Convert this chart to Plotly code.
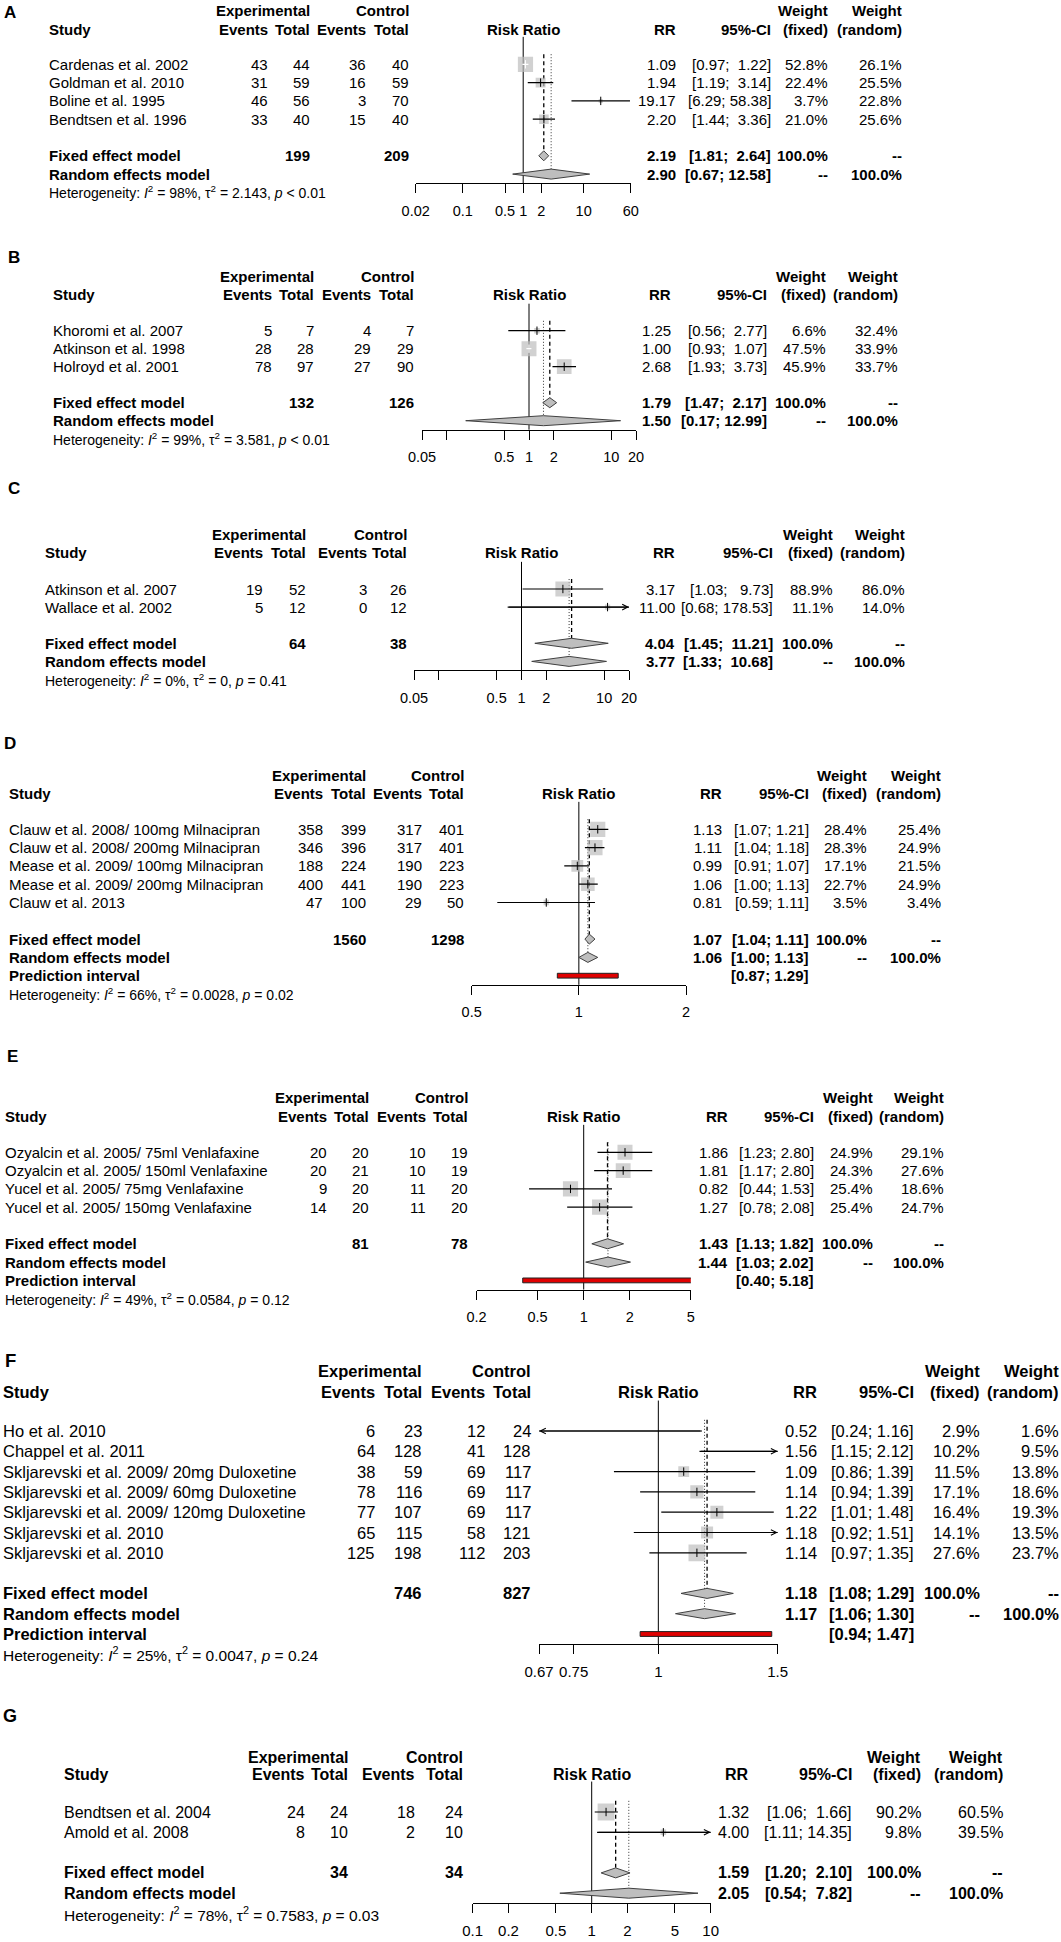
import numpy as np
import plotly.graph_objects as go

W, H = 1061, 1942
FONT = "Liberation Sans, Arial, Helvetica, sans-serif"

# ---------------- Panel A ----------------
A_study = ["Cardenas et al. 2002", "Goldman et al. 2010", "Boline et al. 1995", "Bendtsen et al. 1996"]
A_exp_events = [43, 31, 46, 33]
A_exp_total = [44, 59, 56, 40]
A_ctl_events = [36, 16, 3, 15]
A_ctl_total = [40, 59, 70, 40]
A_rr = [1.09, 1.94, 19.17, 2.20]
A_lower = [0.97, 1.19, 6.29, 1.44]
A_upper = [1.22, 3.14, 58.38, 3.36]
A_w_fixed = [52.8, 22.4, 3.7, 21.0]
A_w_random = [26.1, 25.5, 22.8, 25.6]
A_fixed = [2.19, 1.81, 2.64]
A_random = [2.90, 0.67, 12.58]
A_pred = None
A_totals = [199, 209]
A_het = ["98%", "2.143", "< 0.01"]
A_ticks = [0.01667, 0.1, 0.5, 1, 2, 10, 60]
A_ticklabels = ["0.02", "0.1", "0.5", "1", "2", "10", "60"]

# ---------------- Panel B ----------------
B_study = ["Khoromi et al. 2007", "Atkinson et al. 1998", "Holroyd et al. 2001"]
B_exp_events = [5, 28, 78]
B_exp_total = [7, 28, 97]
B_ctl_events = [4, 29, 27]
B_ctl_total = [7, 29, 90]
B_rr = [1.25, 1.00, 2.68]
B_lower = [0.56, 0.93, 1.93]
B_upper = [2.77, 1.07, 3.73]
B_w_fixed = [6.6, 47.5, 45.9]
B_w_random = [32.4, 33.9, 33.7]
B_fixed = [1.79, 1.47, 2.17]
B_random = [1.50, 0.17, 12.99]
B_pred = None
B_totals = [132, 126]
B_het = ["99%", "3.581", "< 0.01"]
B_ticks = [0.05, 0.1, 0.5, 1, 2, 10, 20]
B_ticklabels = ["0.05", "", "0.5", "1", "2", "10", "20"]

# ---------------- Panel C ----------------
C_study = ["Atkinson et al. 2007", "Wallace et al. 2002"]
C_exp_events = [19, 5]
C_exp_total = [52, 12]
C_ctl_events = [3, 0]
C_ctl_total = [26, 12]
C_rr = [3.17, 11.00]
C_lower = [1.03, 0.68]
C_upper = [9.73, 178.53]
C_w_fixed = [88.9, 11.1]
C_w_random = [86.0, 14.0]
C_fixed = [4.04, 1.45, 11.21]
C_random = [3.77, 1.33, 10.68]
C_pred = None
C_totals = [64, 38]
C_het = ["0%", "0", "= 0.41"]
C_ticks = [0.05, 0.1, 0.5, 1, 2, 10, 20]
C_ticklabels = ["0.05", "", "0.5", "1", "2", "10", "20"]

# ---------------- Panel D ----------------
D_study = ["Clauw et al. 2008/ 100mg Milnacipran", "Clauw et al. 2008/ 200mg Milnacipran",
           "Mease et al. 2009/ 100mg Milnacipran", "Mease et al. 2009/ 200mg Milnacipran",
           "Clauw et al. 2013"]
D_exp_events = [358, 346, 188, 400, 47]
D_exp_total = [399, 396, 224, 441, 100]
D_ctl_events = [317, 317, 190, 190, 29]
D_ctl_total = [401, 401, 223, 223, 50]
D_rr = [1.13, 1.11, 0.99, 1.06, 0.81]
D_lower = [1.07, 1.04, 0.91, 1.00, 0.59]
D_upper = [1.21, 1.18, 1.07, 1.13, 1.11]
D_w_fixed = [28.4, 28.3, 17.1, 22.7, 3.5]
D_w_random = [25.4, 24.9, 21.5, 24.9, 3.4]
D_fixed = [1.07, 1.04, 1.11]
D_random = [1.06, 1.00, 1.13]
D_pred = [0.87, 1.29]
D_totals = [1560, 1298]
D_het = ["66%", "0.0028", "= 0.02"]
D_ticks = [0.5, 1, 2]
D_ticklabels = ["0.5", "1", "2"]

# ---------------- Panel E ----------------
E_study = ["Ozyalcin et al. 2005/ 75ml Venlafaxine", "Ozyalcin et al. 2005/ 150ml Venlafaxine",
           "Yucel et al. 2005/ 75mg Venlafaxine", "Yucel et al. 2005/ 150mg Venlafaxine"]
E_exp_events = [20, 20, 9, 14]
E_exp_total = [20, 21, 20, 20]
E_ctl_events = [10, 10, 11, 11]
E_ctl_total = [19, 19, 20, 20]
E_rr = [1.86, 1.81, 0.82, 1.27]
E_lower = [1.23, 1.17, 0.44, 0.78]
E_upper = [2.80, 2.80, 1.53, 2.08]
E_w_fixed = [24.9, 24.3, 25.4, 25.4]
E_w_random = [29.1, 27.6, 18.6, 24.7]
E_fixed = [1.43, 1.13, 1.82]
E_random = [1.44, 1.03, 2.02]
E_pred = [0.40, 5.18]
E_totals = [81, 78]
E_het = ["49%", "0.0584", "= 0.12"]
E_ticks = [0.2, 0.5, 1, 2, 5]
E_ticklabels = ["0.2", "0.5", "1", "2", "5"]

# ---------------- Panel F ----------------
F_study = ["Ho et al. 2010", "Chappel et al. 2011", "Skljarevski et al. 2009/ 20mg Duloxetine",
           "Skljarevski et al. 2009/ 60mg Duloxetine", "Skljarevski et al. 2009/ 120mg Duloxetine",
           "Skljarevski et al. 2010", "Skljarevski et al. 2010"]
F_exp_events = [6, 64, 38, 78, 77, 65, 125]
F_exp_total = [23, 128, 59, 116, 107, 115, 198]
F_ctl_events = [12, 41, 69, 69, 69, 58, 112]
F_ctl_total = [24, 128, 117, 117, 117, 121, 203]
F_rr = [0.52, 1.56, 1.09, 1.14, 1.22, 1.18, 1.14]
F_lower = [0.24, 1.15, 0.86, 0.94, 1.01, 0.92, 0.97]
F_upper = [1.16, 2.12, 1.39, 1.39, 1.48, 1.51, 1.35]
F_w_fixed = [2.9, 10.2, 11.5, 17.1, 16.4, 14.1, 27.6]
F_w_random = [1.6, 9.5, 13.8, 18.6, 19.3, 13.5, 23.7]
F_fixed = [1.18, 1.08, 1.29]
F_random = [1.17, 1.06, 1.30]
F_pred = [0.94, 1.47]
F_totals = [746, 827]
F_het = ["25%", "0.0047", "= 0.24"]
F_ticks = [0.6667, 0.75, 1, 1.5]
F_ticklabels = ["0.67", "0.75", "1", "1.5"]

# ---------------- Panel G ----------------
G_study = ["Bendtsen et al. 2004", "Amold et al. 2008"]
G_exp_events = [24, 8]
G_exp_total = [24, 10]
G_ctl_events = [18, 2]
G_ctl_total = [24, 10]
G_rr = [1.32, 4.00]
G_lower = [1.06, 1.11]
G_upper = [1.66, 14.35]
G_w_fixed = [90.2, 9.8]
G_w_random = [60.5, 39.5]
G_fixed = [1.59, 1.20, 2.10]
G_random = [2.05, 0.54, 7.82]
G_pred = None
G_totals = [34, 34]
G_het = ["78%", "0.7583", "= 0.03"]
G_ticks = [0.1, 0.2, 0.5, 1, 2, 5, 10]
G_ticklabels = ["0.1", "0.2", "0.5", "1", "2", "5", "10"]


def pack(p):
    g = globals()
    return dict(study=g[p + "_study"], ee=g[p + "_exp_events"], et=g[p + "_exp_total"],
                ce=g[p + "_ctl_events"], ct=g[p + "_ctl_total"], rr=g[p + "_rr"],
                lo=g[p + "_lower"], hi=g[p + "_upper"], wf=g[p + "_w_fixed"], wr=g[p + "_w_random"],
                fixed=g[p + "_fixed"], random=g[p + "_random"], pred=g[p + "_pred"],
                totals=g[p + "_totals"], het=g[p + "_het"], ticks=g[p + "_ticks"],
                ticklabels=g[p + "_ticklabels"])


PANELS = ["A", "B", "C", "D", "E", "F", "G"]

# ---- layout geometry (pixels) ----
GEO = {
    "A": dict(label=(10, 12), hdr=(11, 29.3), row0=64.3, sp=18.3, sx=49, cols=[268, 310, 366, 409],
              rrx=676, cix=771, wfx=828, wrx=902, ax=(415.7, 630.7), fs=15, hfs=14, tfs=14.5),
    "B": dict(label=(14, 258), hdr=(277, 294.7), row0=330.7, sp=18.0, sx=53, cols=[272, 314, 371, 414],
              rrx=671, cix=767, wfx=826, wrx=898, ax=(422, 636), fs=15, hfs=14, tfs=14.5),
    "C": dict(label=(14, 488), hdr=(534, 552.7), row0=589, sp=18.1, sx=45, cols=[263, 306, 367, 407],
              rrx=675, cix=773, wfx=833, wrx=905, ax=(414, 629), fs=15, hfs=14, tfs=14.5),
    "D": dict(label=(10, 743), hdr=(775, 793.3), row0=829.3, sp=18.3, sx=9, cols=[323, 366, 422, 464],
              rrx=722, cix=809, wfx=867, wrx=941, ax=(471.7, 686), fs=15, hfs=14, tfs=14.5),
    "E": dict(label=(12, 1056), hdr=(1097.7, 1116), row0=1152.3, sp=18.3, sx=5, cols=[327, 369, 426, 468],
              rrx=728, cix=814, wfx=873, wrx=944, ax=(476.6, 690.8), fs=15, hfs=14, tfs=14.5),
    "F": dict(label=(10, 1360), hdr=(1371, 1391.7), row0=1431, sp=20.3, sx=3, cols=[375, 422, 485, 531],
              rrx=817, cix=914, wfx=980, wrx=1059, ax=(539, 777.7), fs=16.5, hfs=15.5, tfs=15),
    "G": dict(label=(10, 1716), hdr=(1757.3, 1774.3), row0=1812, sp=20.3, sx=64, cols=[305, 348, 415, 463],
              rrx=749, cix=852, wfx=921, wrx=1003, ax=(472.7, 710.7), fs=16, hfs=15.5, tfs=15),
}

NB = "\u00a0"
fig = go.Figure()
annotations = []
layout = {}


def py(y):
    return 1 - y / H


def txt(s, x, y, yref="paper", anchor="right", bold=False, size=14):
    if yref == "paper":
        y = py(y)
    annotations.append(dict(text=("<b>%s</b>" % s) if bold else s, x=x / W, xref="paper", y=y, yref=yref,
                            xanchor=anchor, yanchor="middle", align=anchor, showarrow=False,
                            borderpad=0, borderwidth=0,
                            font=dict(size=size, family=FONT, color="black")))


def fmt_ci(lows, highs):
    ls = ["%.2f" % v for v in lows]
    hs = ["%.2f" % v for v in highs]
    wl = max(len(s) for s in ls)
    wh = max(len(s) for s in hs)
    return ["[" + NB * (wl - len(a)) + a + ";" + NB + NB * (wh - len(b)) + b + "]" for a, b in zip(ls, hs)]


for k, name in enumerate(PANELS, start=1):
    P = pack(name)
    G = GEO[name]
    fs, hfs = G["fs"], G["hfs"]
    xa = "x" if k == 1 else "x%d" % k
    ya = "y" if k == 1 else "y%d" % k
    xkey = "xaxis" if k == 1 else "xaxis%d" % k
    ykey = "yaxis" if k == 1 else "yaxis%d" % k

    n = len(P["study"])
    rows = list(range(n))
    fr, rrow = n + 1, n + 2
    prow = n + 3 if P["pred"] else None
    last = prow if prow else rrow
    axis_row = last + 0.5
    het_row = last + 1
    top, bottom = -1.6, het_row + 0.7
    row0, sp = G["row0"], G["sp"]
    lim_lo, lim_hi = P["ticks"][0], P["ticks"][-1]
    x0, x1 = G["ax"]
    ppl = (x1 - x0) / (np.log10(lim_hi) - np.log10(lim_lo))

    layout[xkey] = dict(type="log", range=[np.log10(lim_lo), np.log10(lim_hi)], domain=[x0 / W, x1 / W],
                        anchor="free", position=py(row0 + axis_row * sp), showline=True, linecolor="black",
                        linewidth=1, ticks="outside", ticklen=9, tickwidth=1, tickcolor="black",
                        tickvals=P["ticks"], ticktext=P["ticklabels"],
                        tickfont=dict(size=G["tfs"], family=FONT, color="black"), showgrid=False,
                        zeroline=False, ticklabelstandoff=5, fixedrange=True, automargin=False)
    layout[ykey] = dict(domain=[py(row0 + bottom * sp), py(row0 + top * sp)], range=[bottom, top],
                        visible=False, showgrid=False, zeroline=False, anchor=xa, fixedrange=True)

    def add(tr):
        tr.update(xaxis=xa, yaxis=ya, showlegend=False, hoverinfo="skip")
        fig.add_trace(tr)

    # null line, fixed-effect (dashed) and random-effects (dotted) lines
    add(go.Scatter(x=[1, 1], y=[-1.5, axis_row], mode="lines", line=dict(color="black", width=1)))
    add(go.Scatter(x=[P["fixed"][0]] * 2, y=[-0.55, fr], mode="lines",
                   line=dict(color="black", width=1.3, dash="4px,3px")))
    add(go.Scatter(x=[P["random"][0]] * 2, y=[-0.55, rrow], mode="lines",
                   line=dict(color="#333333", width=1, dash="1px,2px")))

    # study squares (area proportional to fixed-effect weight)
    wf = np.array(P["wf"], float)
    sizes = 0.83 * sp * np.sqrt(wf / wf.max())
    add(go.Scatter(x=P["rr"], y=rows, mode="markers",
                   marker=dict(symbol="square", size=sizes, color="#BEBEBE", line=dict(width=0))))

    lr = np.log10(P["rr"])
    ext_hi = (np.log10(P["hi"]) - lr) * ppl
    ext_lo = (lr - np.log10(P["lo"])) * ppl
    inside = (ext_hi <= sizes / 2) & (ext_lo <= sizes / 2)
    for flag, col in [(False, "black"), (True, "white")]:
        xs, ys = [], []
        for i in rows:
            if bool(inside[i]) == flag:
                xs += [P["lo"][i], P["hi"][i], None]
                ys += [i, i, None]
        if xs:
            add(go.Scatter(x=xs, y=ys, mode="lines", line=dict(color=col, width=1.2)))
    add(go.Scatter(x=P["rr"], y=rows, mode="markers",
                   marker=dict(symbol="line-ns", size=6,
                               line=dict(width=1, color=["white" if f else "black" for f in inside]))))

    # arrows for confidence intervals running past the axis limits
    for i in rows:
        if P["hi"][i] > lim_hi:
            annotations.append(dict(x=np.log10(lim_hi), y=i, ax=np.log10(max(P["lo"][i], lim_lo)), ay=i,
                                    xref=xa, yref=ya, axref=xa, ayref=ya, text="", showarrow=True,
                                    arrowhead=5, arrowsize=1.1, arrowwidth=1, arrowcolor="black",
                                    standoff=0, startstandoff=0))
        if P["lo"][i] < lim_lo:
            annotations.append(dict(x=np.log10(lim_lo), y=i, ax=np.log10(min(P["hi"][i], lim_hi)), ay=i,
                                    xref=xa, yref=ya, axref=xa, ayref=ya, text="", showarrow=True,
                                    arrowhead=5, arrowsize=1.1, arrowwidth=1, arrowcolor="black",
                                    standoff=0, startstandoff=0))

    # summary diamonds
    h = 5.0 / sp
    for row, (est, lo, hi) in [(fr, P["fixed"]), (rrow, P["random"])]:
        add(go.Scatter(x=[lo, est, hi, est, lo], y=[row, row - h, row, row + h, row], mode="lines",
                       fill="toself", fillcolor="#BEBEBE", line=dict(color="#404040", width=1)))
    # prediction interval bar
    if P["pred"]:
        ph = 2.4 / sp
        plo, phi = P["pred"]
        add(go.Scatter(x=[plo, phi, phi, plo, plo], y=[prow - ph, prow - ph, prow + ph, prow + ph, prow - ph],
                       mode="lines", fill="toself", fillcolor="#E00000", line=dict(color="#202020", width=1)))

    # ---- table text ----
    lx, ly = G["label"]
    txt(name, lx, ly, anchor="center", bold=True, size=fs + 2)
    h1, h2 = G["hdr"]
    c = G["cols"]
    txt("Experimental", c[1], h1, bold=True, size=fs)
    txt("Control", c[3], h1, bold=True, size=fs)
    txt("Weight", G["wfx"], h1, bold=True, size=fs)
    txt("Weight", G["wrx"], h1, bold=True, size=fs)
    txt("Study", G["sx"], h2, anchor="left", bold=True, size=fs)
    for cx, lab in zip(c, ["Events", "Total", "Events", "Total"]):
        txt(lab, cx, h2, bold=True, size=fs)
    txt("Risk Ratio", (x0 + x1) / 2, h2, anchor="center", bold=True, size=fs)
    txt("RR", G["rrx"], h2, bold=True, size=fs)
    txt("95%-CI", G["cix"], h2, bold=True, size=fs)
    txt("(fixed)", G["wfx"], h2, bold=True, size=fs)
    txt("(random)", G["wrx"], h2, bold=True, size=fs)

    all_lo = list(P["lo"]) + [P["fixed"][1], P["random"][1]] + ([P["pred"][0]] if P["pred"] else [])
    all_hi = list(P["hi"]) + [P["fixed"][2], P["random"][2]] + ([P["pred"][1]] if P["pred"] else [])
    cis = fmt_ci(all_lo, all_hi)

    for i in rows:
        txt(P["study"][i], G["sx"], i, yref=ya, anchor="left", size=fs)
        for cx, v in zip(c, [P["ee"][i], P["et"][i], P["ce"][i], P["ct"][i]]):
            txt(str(v), cx, i, yref=ya, size=fs)
        txt("%.2f" % P["rr"][i], G["rrx"], i, yref=ya, size=fs)
        txt(cis[i], G["cix"], i, yref=ya, size=fs)
        txt("%.1f%%" % P["wf"][i], G["wfx"], i, yref=ya, size=fs)
        txt("%.1f%%" % P["wr"][i], G["wrx"], i, yref=ya, size=fs)

    txt("Fixed effect model", G["sx"], fr, yref=ya, anchor="left", bold=True, size=fs)
    txt(str(P["totals"][0]), c[1], fr, yref=ya, bold=True, size=fs)
    txt(str(P["totals"][1]), c[3], fr, yref=ya, bold=True, size=fs)
    txt("%.2f" % P["fixed"][0], G["rrx"], fr, yref=ya, bold=True, size=fs)
    txt(cis[n], G["cix"], fr, yref=ya, bold=True, size=fs)
    txt("100.0%", G["wfx"], fr, yref=ya, bold=True, size=fs)
    txt("--", G["wrx"], fr, yref=ya, bold=True, size=fs)

    txt("Random effects model", G["sx"], rrow, yref=ya, anchor="left", bold=True, size=fs)
    txt("%.2f" % P["random"][0], G["rrx"], rrow, yref=ya, bold=True, size=fs)
    txt(cis[n + 1], G["cix"], rrow, yref=ya, bold=True, size=fs)
    txt("--", G["wfx"], rrow, yref=ya, bold=True, size=fs)
    txt("100.0%", G["wrx"], rrow, yref=ya, bold=True, size=fs)

    if P["pred"]:
        txt("Prediction interval", G["sx"], prow, yref=ya, anchor="left", bold=True, size=fs)
        txt(cis[n + 2], G["cix"], prow, yref=ya, bold=True, size=fs)

    i2, tau2, pv = P["het"]
    pv = pv.replace("<", "&lt;")
    het = "Heterogeneity: <i>I</i><sup>2</sup> = %s, \u03c4<sup>2</sup> = %s, <i>p</i> %s" % (i2, tau2, pv)
    txt(het, G["sx"], het_row, yref=ya, anchor="left", size=hfs)

fig.update_layout(width=W, height=H, autosize=False,
                  margin=dict(l=0, r=0, t=0, b=0, pad=0, autoexpand=False), paper_bgcolor="white",
                  plot_bgcolor="white", font=dict(family=FONT, size=14, color="black"),
                  annotations=annotations, showlegend=False, **layout)
fig.write_html("out.html", config={"displayModeBar": False},
               post_script="document.body.style.margin='0px';document.body.style.overflow='hidden';")
